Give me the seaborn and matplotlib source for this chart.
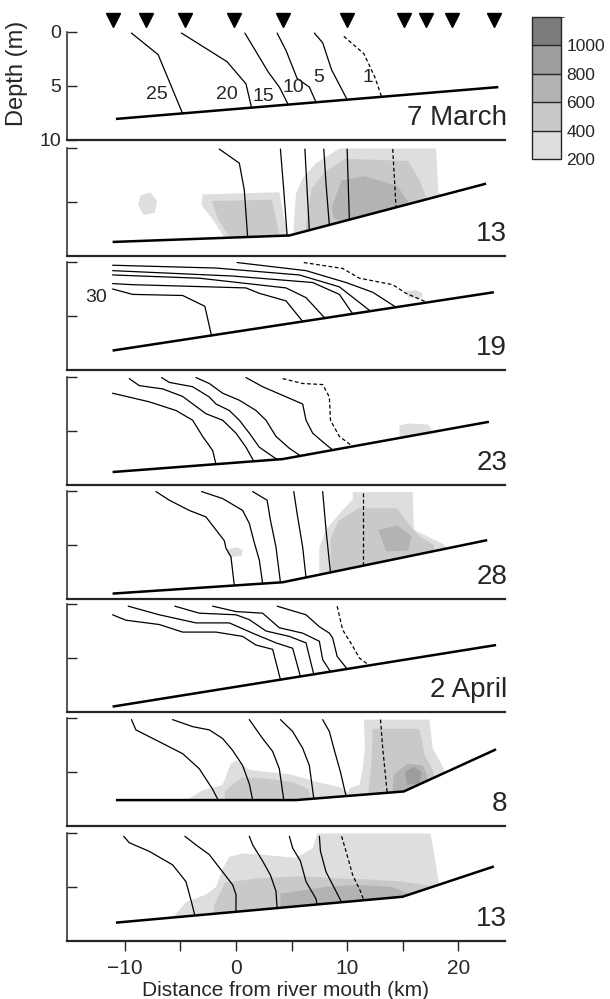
import matplotlib.pyplot as plt
import numpy as np
import pandas as pd
import seaborn as sns
from matplotlib.colors import ListedColormap, BoundaryNorm
from matplotlib.cm import ScalarMappable

sns.set_style("ticks")
plt.rcParams["font.family"] = ["Liberation Sans", "DejaVu Sans"]

# survey dates (one panel each)
panel_labels = ["7 March", "13", "19", "23", "28", "2 April", "8", "13"]

# CTD stations (km from river mouth)
station_km = [-11.1, -8.1, -4.6, -0.15, 4.2, 10.0, 15.1, 17.1, 19.4, 23.2]

# concentration classes for the shading
conc_levels = [200, 400, 600, 800, 1000, 1200]
conc_ticks = [200, 400, 600, 800, 1000]
conc_colors = ["#dedede", "#c9c9c9", "#b3b3b3", "#9d9d9d", "#7c7c7c"]

# seafloor profile of each survey
floor_km = [
    [-10.8, 23.6],
    [-11.1, 4.8, 22.5],
    [-11.1, 23.2],
    [-11.1, 4.2, 22.75],
    [-11.1, 4.2, 22.6],
    [-11.1, 23.4],
    [-10.8, 5.4, 15.1, 23.4],
    [-10.8, 15.0, 23.2],
]
floor_depth = [
    [8.05, 5.1],
    [8.7, 8.1, 3.3],
    [8.2, 2.8],
    [8.8, 7.6, 4.15],
    [9.5, 8.45, 4.55],
    [9.5, 3.8],
    [7.6, 7.6, 6.8, 2.9],
    [8.3, 5.9, 3.1],
]

# isohalines (km, depth); the last line of every survey is the dashed 1 isohaline
iso_mar07 = [
    ([-9.4, -7.0, -4.8], [0.1, 2.1, 7.55]),
    ([-4.9, -0.8, 0.9, 1.4], [0.1, 2.75, 4.8, 7.0]),
    ([0.8, 2.9, 3.9, 4.7], [0.1, 3.7, 5.1, 6.72]),
    ([3.7, 4.5, 5.5, 6.6, 7.2], [0.1, 1.7, 4.3, 5.1, 6.5]),
    ([7.05, 7.8, 8.6, 10.0], [0.1, 1.0, 3.5, 6.26]),
    ([9.7, 11.5, 12.5, 13.1], [0.4, 2.0, 4.2, 6.0]),
]
iso_mar13 = [
    ([-1.5, 0.3, 0.75, 1.05], [0.1, 1.4, 3.9, 8.25]),
    ([4.0, 4.3, 4.6], [0.1, 3.9, 8.1]),
    ([6.2, 6.4, 6.6], [0.1, 3.9, 7.64]),
    ([7.9, 8.1, 8.4], [0.1, 3.3, 7.15]),
    ([10.0, 10.2], [0.1, 6.66]),
    ([14.1, 14.4], [0.1, 5.52]),
]
iso_mar19 = [
    ([-11.1, -9.3, -4.8, -2.8, -2.2], [2.5, 3.0, 3.1, 4.1, 6.83]),
    ([-11.1, -9.3, 0.9, 2.1, 4.5, 6.0], [2.0, 2.1, 2.4, 2.9, 3.6, 5.5]),
    ([-11.1, -3.3, 4.5, 6.3, 8.0], [1.2, 1.5, 2.4, 3.3, 5.2]),
    ([-11.1, -0.3, 6.9, 9.3, 10.5], [0.8, 1.3, 1.9, 3.0, 4.8]),
    ([-11.1, -1.8, 5.7, 9.3, 12.1], [0.3, 0.56, 1.2, 2.3, 4.55]),
    ([0.1, 6.3, 9.9, 12.3, 14.4], [0.05, 0.8, 1.9, 2.8, 4.19]),
    ([6.1, 9.6, 11.1, 14.1, 15.3, 17.1], [0.05, 0.6, 1.5, 2.1, 2.9, 3.7]),
]
iso_mar23 = [
    ([-11.1, -7.8, -5.4, -3.9, -3.0, -2.1, -1.8], [1.5, 2.3, 3.1, 4.0, 5.5, 6.8, 8.07]),
    ([-9.6, -8.7, -6.6, -4.8, -2.7, -1.2, 0.0, 0.9, 1.6], [0.15, 0.8, 1.1, 1.8, 3.4, 4.0, 5.2, 6.5, 7.8]),
    ([-6.7, -6.0, -3.9, -2.4, -1.8, -0.6, 0.3, 1.2, 2.1, 3.7],
     [0.05, 0.5, 0.9, 1.85, 2.5, 3.1, 4.0, 5.2, 6.5, 7.64]),
    ([-3.6, -2.4, -1.2, 0.3, 1.8, 2.7, 3.6, 4.8, 5.8], [0.05, 0.6, 1.5, 2.15, 3.1, 4.0, 5.5, 6.6, 7.3]),
    ([0.9, 2.4, 4.2, 6.0, 6.3, 6.9, 7.8, 8.7], [0.05, 0.9, 1.7, 2.5, 4.0, 5.2, 6.0, 6.76]),
    ([4.2, 6.0, 7.8, 8.4, 8.5, 9.3, 10.5], [0.15, 0.6, 0.7, 1.85, 4.0, 5.5, 6.43]),
]
iso_mar28 = [
    ([-7.2, -6.0, -4.2, -2.7, -1.8, -1.05, -0.9, -0.45, -0.15],
     [0.05, 0.85, 1.8, 2.4, 3.6, 4.6, 5.3, 6.1, 8.75]),
    ([-3.1, -1.2, 0.6, 1.2, 1.6, 2.1, 2.4], [0.05, 0.7, 1.8, 3.0, 4.6, 6.4, 8.57]),
    ([1.5, 2.8, 3.1, 3.6, 4.0], [0.05, 0.85, 2.7, 5.2, 8.46]),
    ([5.2, 5.5, 6.0, 6.3], [0.05, 2.1, 5.2, 8.0]),
    ([7.8, 8.1, 8.5], [0.05, 3.6, 7.54]),
    ([11.4, 11.4], [0.2, 6.92]),
]
iso_apr02 = [
    ([-11.1, -9.9, -6.9, -4.8, -1.8, 0.6, 1.8, 3.3, 4.0], [1.0, 1.5, 1.9, 2.6, 2.6, 3.0, 3.8, 4.2, 7.0]),
    ([-9.7, -6.9, -3.6, -0.6, 1.5, 3.6, 5.1, 5.8], [0.2, 1.0, 1.75, 1.75, 2.7, 3.6, 4.1, 6.72]),
    ([-5.5, -3.3, 0.0, 1.2, 2.7, 4.8, 6.3, 7.0], [0.2, 0.85, 1.0, 1.45, 2.5, 3.0, 3.6, 6.52]),
    ([-2.1, 0.0, 2.4, 3.9, 6.0, 7.5, 7.8, 8.5], [0.2, 0.7, 0.85, 2.2, 2.7, 3.45, 5.15, 6.27]),
    ([3.7, 6.3, 7.5, 8.4, 8.7, 9.1, 10.0], [0.2, 1.0, 2.1, 2.7, 3.15, 4.85, 6.02]),
    ([9.1, 9.6, 10.5, 11.1, 12.0], [0.2, 2.4, 3.9, 5.0, 5.69]),
]
iso_apr08 = [
    ([-9.4, -9.0, -6.9, -4.8, -3.3, -2.1, -1.6], [0.15, 1.1, 2.2, 3.3, 4.7, 6.6, 7.6]),
    ([-5.7, -3.9, -2.4, -1.2, -0.3, 0.6, 1.2, 1.5], [0.15, 0.8, 1.1, 1.9, 3.0, 4.4, 6.1, 7.6]),
    ([1.2, 2.4, 3.3, 3.9, 4.3], [0.15, 1.9, 3.1, 4.7, 7.6]),
    ([4.0, 5.1, 6.0, 6.6, 7.0], [0.15, 1.25, 2.8, 4.4, 7.47]),
    ([7.8, 8.4, 8.8, 9.4, 9.9], [0.15, 1.25, 2.8, 5.0, 7.23]),
    ([13.0, 13.2, 13.6], [0.15, 2.8, 6.92]),
]
iso_apr13 = [
    ([-10.1, -9.6, -7.8, -5.7, -4.5, -4.0, -3.7], [0.3, 0.9, 1.7, 2.95, 4.5, 6.4, 7.64]),
    ([-4.6, -3.6, -2.4, -1.2, -0.3, 0.0, 0.0], [0.3, 1.1, 2.0, 3.6, 4.8, 5.7, 7.3]),
    ([1.2, 1.5, 2.4, 3.1, 3.6, 3.7], [0.3, 1.1, 2.6, 3.9, 5.4, 6.95]),
    ([4.8, 5.1, 5.8, 6.3, 7.2, 7.3], [0.3, 1.4, 2.6, 4.5, 6.1, 6.62]),
    ([7.5, 7.6, 8.1, 9.0, 9.5], [0.3, 1.7, 3.6, 5.4, 6.41]),
    ([9.5, 9.9, 10.5, 11.2, 11.5], [0.3, 1.7, 3.9, 5.4, 6.23]),
]

# salinity labels on the first survey (value, km, depth)
iso_label_text = ["25", "20", "15", "10", "5", "1"]
iso_label_km = [-7.1, -0.8, 2.5, 5.2, 7.4, 11.9]
iso_label_depth = [5.8, 5.75, 6.0, 5.1, 4.25, 4.25]

# shaded concentration patches (class value, km outline, depth outline)
shade_mar07 = []
shade_mar13 = [
    (300, [-8.6, -7.7, -7.1, -7.3, -8.3, -8.8], [4.4, 4.1, 4.9, 6.0, 6.2, 5.3]),
    (300, [-3.0, 3.9, 4.3, 4.9, -0.6, -2.1, -3.1], [4.3, 4.1, 6.4, 9.0, 9.0, 6.6, 5.3]),
    (500, [-2.2, 3.2, 3.6, 4.0, -0.2, -1.6], [4.9, 4.8, 6.5, 8.8, 8.8, 6.6]),
    (300, [5.1, 5.4, 6.0, 7.2, 9.3, 18.0, 18.2, 18.6, 18.6], [9.0, 4.2, 2.8, 1.4, 0.05, 0.05, 4.1, 4.4, 9.0]),
    (500, [6.0, 6.8, 8.0, 9.8, 15.5, 16.5, 17.2, 17.2], [9.0, 3.8, 2.2, 1.0, 1.2, 3.0, 4.8, 9.0]),
    (700, [8.6, 9.5, 11.5, 14.5, 15.5, 14.0, 10.5, 8.8], [5.5, 3.0, 2.6, 3.5, 5.0, 7.0, 7.2, 6.5]),
]
shade_mar19 = [
    (300, [15.3, 16.2, 16.8, 16.6, 15.5], [2.7, 2.6, 2.9, 3.4, 3.3]),
]
shade_mar23 = [
    (300, [14.7, 15.5, 17.3, 17.6, 17.6, 14.7], [4.5, 4.3, 4.4, 4.9, 6.5, 6.5]),
]
shade_mar28 = [
    (300, [-0.8, 0.1, 0.6, 0.5, -0.4, -0.8], [5.4, 5.2, 5.5, 6.0, 6.1, 5.8]),
    (300, [10.5, 15.9, 16.0, 18.6, 19.2, 19.2, 7.5, 7.5, 8.1, 9.3, 10.5],
     [0.1, 0.1, 3.6, 4.9, 5.4, 9.5, 9.5, 5.2, 3.6, 2.1, 0.8]),
    (500, [9.2, 11.0, 14.5, 15.5, 16.5, 17.8, 17.8, 8.6, 8.5], [2.8, 1.6, 1.6, 3.0, 4.2, 5.0, 9.5, 9.5, 4.5]),
    (700, [12.8, 14.5, 15.8, 15.5, 13.5], [3.6, 3.2, 4.2, 5.5, 5.6]),
]
shade_apr02 = []
shade_apr08 = [
    (300, [-4.6, -3.0, -1.2, -0.5, 0.0, 1.2, 2.7, 4.8, 7.2, 9.3, 10.8, 10.8, -4.6],
     [7.7, 6.7, 6.2, 4.3, 3.9, 4.8, 5.0, 5.2, 5.9, 6.4, 7.3, 8.5, 8.5]),
    (500, [-1.0, 0.5, 2.5, 5.0, 6.5, 7.0, -1.0], [6.8, 5.5, 5.6, 5.9, 6.6, 8.5, 8.5]),
    (300, [11.5, 17.4, 17.7, 18.7, 18.7, 10.0, 10.2, 11.1, 11.4, 11.6],
     [0.15, 0.15, 2.8, 4.7, 8.0, 8.0, 6.5, 6.2, 4.7, 2.8]),
    (500, [12.3, 16.5, 17.0, 17.8, 17.8, 11.8, 12.2], [1.0, 1.0, 3.5, 5.0, 8.0, 8.0, 4.0]),
    (700, [14.2, 15.5, 16.8, 17.2, 17.2, 14.0], [5.2, 4.2, 4.4, 5.3, 8.0, 8.0]),
    (900, [15.2, 16.0, 16.7, 16.5, 15.4], [5.0, 4.5, 5.0, 6.0, 6.2]),
]
shade_apr13 = [
    (300, [-6.0, -4.5, -2.7, -1.8, -1.2, -0.6, 0.6, 2.4, 4.2, 5.4, 6.9, 7.3, 17.5, 18.0, 18.3, 18.3, -6.0],
     [8.2, 6.4, 5.7, 5.0, 3.3, 2.2, 1.9, 2.0, 2.2, 2.3, 1.4, 0.05, 0.05, 3.0, 5.0, 9.0, 9.0]),
    (500, [-2.0, -1.0, 2.0, 6.0, 9.0, 12.0, 15.0, 17.5, 17.5, -2.0],
     [6.8, 4.6, 4.2, 4.0, 4.2, 4.3, 4.5, 4.9, 9.0, 9.0]),
    (700, [4.0, 8.0, 11.0, 14.0, 15.5, 15.5, 4.0], [5.6, 5.0, 4.8, 5.0, 5.6, 9.0, 9.0]),
]

iso_all = [iso_mar07, iso_mar13, iso_mar19, iso_mar23, iso_mar28, iso_apr02, iso_apr08, iso_apr13]
shade_all = [shade_mar07, shade_mar13, shade_mar19, shade_mar23, shade_mar28,
             shade_apr02, shade_apr08, shade_apr13]

rows = []
for p, lines in enumerate(iso_all):
    for j, (xs, ds) in enumerate(lines):
        kind = "dashed" if j == len(lines) - 1 else "solid"
        for x, d in zip(xs, ds):
            rows.append((p, j, x, d, kind))
iso = pd.DataFrame(rows, columns=["panel", "line", "km", "depth", "kind"])

cmap = ListedColormap(conc_colors)
norm = BoundaryNorm(conc_levels, cmap.N)

W, H = 610, 999
fig = plt.figure(figsize=(W / 100, H / 100), dpi=100)

left = 67 / W
width = (505 - 67) / W
tops = [32, 148, 262, 377, 491, 604, 718, 833]
panel_h = 108

axes = []
for p, top in enumerate(tops):
    ax = fig.add_axes([left, 1 - (top + panel_h) / H, width, panel_h / H])
    axes.append(ax)

    for level, xs, ds in shade_all[p]:
        ax.fill(xs, ds, color=cmap(norm(level)), lw=0, zorder=1)

    # nothing below the seabed
    ax.fill_between(floor_km[p], floor_depth[p], 10.5, color="white", lw=0, zorder=2)

    sns.lineplot(
        data=iso[iso["panel"] == p], x="km", y="depth",
        units="line", estimator=None, sort=False,
        style="kind", style_order=["solid", "dashed"],
        dashes={"solid": "", "dashed": (3, 2)},
        color="black", linewidth=0.9, legend=False, ax=ax, zorder=3,
    )
    ax.plot(floor_km[p], floor_depth[p], color="black", lw=1.8, zorder=4,
            solid_capstyle="butt")

    ax.set_xlim(-15.2, 24.2)
    ax.set_ylim(10, 0)
    ax.set_xlabel("")
    ax.set_ylabel("")
    for side in ["top", "right"]:
        ax.spines[side].set_visible(False)
    ax.spines["left"].set_linewidth(1.1)
    ax.spines["bottom"].set_linewidth(1.6)

    ax.tick_params(axis="y", direction="in", length=7, width=1, labelsize=14, pad=4)
    if p == 0:
        ax.set_yticks([0, 5, 10])
    else:
        ax.set_yticks([0, 5])
        ax.set_yticklabels([])

    if p == len(tops) - 1:
        ax.set_xticks([-10, 0, 10, 20])
        ax.set_xticks([-5, 5, 15], minor=True)
        ax.tick_params(axis="x", which="both", direction="out", length=7, width=1,
                       labelsize=15, pad=6)
        ax.set_xlabel("Distance from river mouth (km)", fontsize=15, labelpad=2)
    else:
        ax.set_xticks([])

    ax.text(1.005, 0.2, panel_labels[p], transform=ax.transAxes,
            ha="right", va="center", fontsize=20)

ax0 = axes[0]
ax0.plot(station_km, [1.11] * len(station_km), "v", color="black", ms=10,
         transform=ax0.get_xaxis_transform(), clip_on=False)
for t, x, d in zip(iso_label_text, iso_label_km, iso_label_depth):
    ax0.text(x, d, t, ha="center", va="center", fontsize=14)
ax0.set_ylabel("Depth (m)", fontsize=17)
ax0.yaxis.set_label_coords(-0.09, 0.62)

axes[2].text(-12.6, 3.3, "30", ha="center", va="center", fontsize=14)

cax = fig.add_axes([532 / W, 1 - 159 / H, 29 / W, 142 / H])
cb = fig.colorbar(ScalarMappable(norm=norm, cmap=cmap), cax=cax,
                  ticks=conc_ticks, drawedges=True)
cb.ax.tick_params(length=0, labelsize=12.5, pad=4)
cb.outline.set_linewidth(1)
cb.dividers.set_linewidth(1)

fig.savefig("out.png", dpi=100)
